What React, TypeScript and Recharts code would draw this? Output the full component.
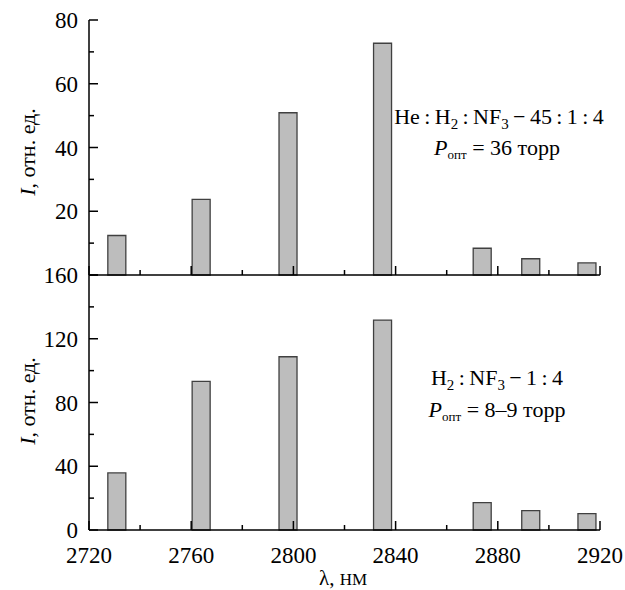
import React from 'react';
import { BarChart, Bar, XAxis, YAxis } from 'recharts';

const wavelengths = [2731, 2764, 2798, 2835, 2874, 2893, 2915];
const heMixValues = [12.4, 23.7, 50.9, 72.7, 8.4, 5.1, 3.8];
const h2MixValues = [35.8, 93.2, 108.7, 131.7, 17.2, 12.2, 10.3];

const xTicks = [2720, 2740, 2760, 2780, 2800, 2820, 2840, 2860, 2880, 2900, 2920];
const topYTicks = [0, 10, 20, 30, 40, 50, 60, 70, 80];
const bottomYTicks = [0, 20, 40, 60, 80, 100, 120, 140, 160];

const FONT = '"Liberation Serif", "DejaVu Serif", serif';
const txt = { fontFamily: FONT };
const C = '\u2009:\u2009';

const topData = wavelengths.map((w, i) => ({ w, v: heMixValues[i] }));
const bottomData = wavelengths.map((w, i) => ({ w, v: h2MixValues[i] }));

// ticks point inward, so they are drawn by hand along with the labels
const makeXTick = (showLabels: boolean) => (props: any) => {
    const { x, y, payload } = props;
    const major = payload.value % 40 === 0;
    return (
        <g>
            <line x1={x} x2={x} y1={y} y2={y - (major ? 9 : 5)} stroke="#000" strokeWidth={1.5} />
            {showLabels && major && (
                <text x={x} y={y + 33} textAnchor="middle" style={txt} fontSize={23} fill="#000">
                    {payload.value}
                </text>
            )}
        </g>
    );
};

const makeYTick = (step: number, hideZero: boolean) => (props: any) => {
    const { x, y, payload } = props;
    const major = payload.value % step === 0;
    const show = major && !(hideZero && payload.value === 0);
    return (
        <g>
            <line x1={x} x2={x + (major ? 9 : 5)} y1={y} y2={y} stroke="#000" strokeWidth={1.5} />
            {show && (
                <text x={x - 11} y={y + 8} textAnchor="end" style={txt} fontSize={23} fill="#000">
                    {payload.value}
                </text>
            )}
        </g>
    );
};

const YLabel = ({ cy }: { cy: number }) => (
    <text transform={`translate(35, ${cy}) rotate(-90)`} textAnchor="middle" style={txt} fontSize={22} fill="#000">
        <tspan fontStyle="italic">I</tspan>, отн. ед.
    </text>
);

const SUB = 15;

export default function App() {
    return (
        <div style={{ position: 'absolute', left: 0, top: 0, width: 625, height: 590, background: '#fff' }}>
            <div style={{ position: 'absolute', left: 0, top: 0 }}>
                <BarChart width={625} height={280} data={topData} margin={{ top: 20, right: 25, bottom: 0, left: 29 }}>
                    <XAxis
                        dataKey="w"
                        type="number"
                        domain={[2720, 2920]}
                        ticks={xTicks}
                        interval={0}
                        height={5}
                        tickSize={0}
                        tickMargin={0}
                        tickLine={false}
                        tick={makeXTick(false)}
                        axisLine={{ stroke: '#000', strokeWidth: 1.5 }}
                    />
                    <YAxis
                        domain={[0, 80]}
                        ticks={topYTicks}
                        interval={0}
                        width={60}
                        tickSize={0}
                        tickMargin={0}
                        tickLine={false}
                        tick={makeYTick(20, true)}
                        axisLine={{ stroke: '#000', strokeWidth: 1.5 }}
                    />
                    <Bar dataKey="v" barSize={18} fill="#bdbdbd" stroke="#404040" strokeWidth={1.3} isAnimationActive={false} />
                    <YLabel cy={152} />
                    <text x={499} y={124} textAnchor="middle" style={txt} fontSize={22} fill="#000">
                        He{C}H<tspan dy={5} fontSize={SUB}>2</tspan>
                        <tspan dy={-5}>{C}NF</tspan>
                        <tspan dy={5} fontSize={SUB}>3</tspan>
                        <tspan dy={-5}>{'\u2009−\u200945' + C + '1' + C + '4'}</tspan>
                    </text>
                    <text x={497} y={155} textAnchor="middle" style={txt} fontSize={22} fill="#000">
                        <tspan fontStyle="italic">P</tspan>
                        <tspan dy={4} fontSize={13}>опт</tspan>
                        <tspan dy={-4}> = 36 торр</tspan>
                    </text>
                </BarChart>
            </div>
            <div style={{ position: 'absolute', left: 0, top: 250 }}>
                <BarChart width={625} height={340} data={bottomData} margin={{ top: 25, right: 25, bottom: 0, left: 29 }}>
                    <XAxis
                        dataKey="w"
                        type="number"
                        domain={[2720, 2920]}
                        ticks={xTicks}
                        interval={0}
                        height={60}
                        tickSize={0}
                        tickMargin={0}
                        tickLine={false}
                        tick={makeXTick(true)}
                        axisLine={{ stroke: '#000', strokeWidth: 1.5 }}
                    />
                    <YAxis
                        domain={[0, 160]}
                        ticks={bottomYTicks}
                        interval={0}
                        width={60}
                        tickSize={0}
                        tickMargin={0}
                        tickLine={false}
                        tick={makeYTick(40, false)}
                        axisLine={{ stroke: '#000', strokeWidth: 1.5 }}
                    />
                    <Bar dataKey="v" barSize={18} fill="#bdbdbd" stroke="#404040" strokeWidth={1.3} isAnimationActive={false} />
                    <YLabel cy={151} />
                    <text x={497} y={135} textAnchor="middle" style={txt} fontSize={22} fill="#000">
                        H<tspan dy={5} fontSize={SUB}>2</tspan>
                        <tspan dy={-5}>{C}NF</tspan>
                        <tspan dy={5} fontSize={SUB}>3</tspan>
                        <tspan dy={-5}>{'\u2009−\u20091' + C + '4'}</tspan>
                    </text>
                    <text x={497} y={167} textAnchor="middle" style={txt} fontSize={22} fill="#000">
                        <tspan fontStyle="italic">P</tspan>
                        <tspan dy={4} fontSize={13}>опт</tspan>
                        <tspan dy={-4}> = 8–9 торр</tspan>
                    </text>
                    <text x={343} y={335} textAnchor="middle" style={txt} fontSize={21} fill="#000">
                        λ, <tspan fontSize={17}>НМ</tspan>
                    </text>
                </BarChart>
            </div>
        </div>
    );
}
